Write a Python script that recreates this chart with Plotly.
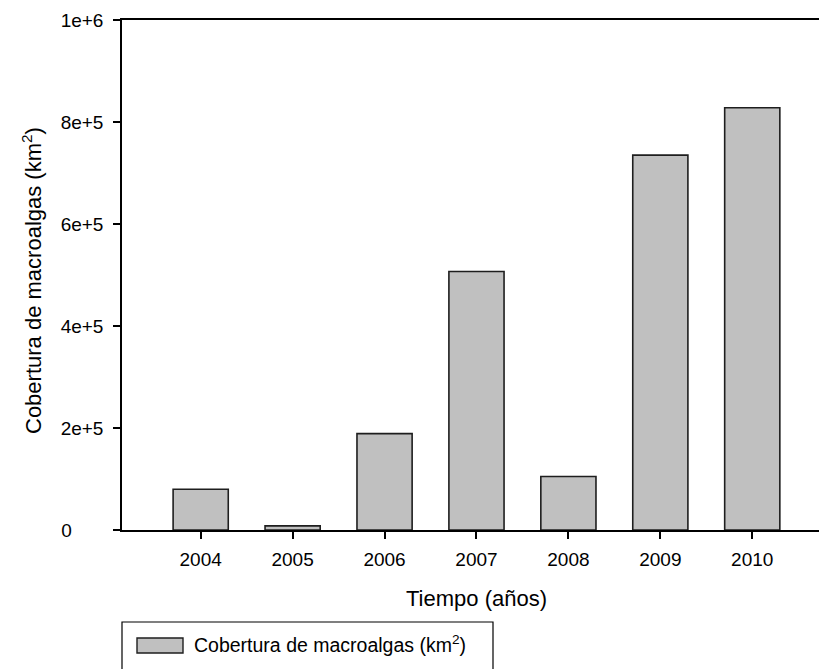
import plotly.graph_objects as go

# Macroalgae cover per year
years = ["2004", "2005", "2006", "2007", "2008", "2009", "2010"]
cover_km2 = [80000, 8000, 189000, 507000, 105000, 735000, 828000]

y_tick_vals = [0, 200000, 400000, 600000, 800000, 1000000]
y_tick_text = ["0", "2e+5", "4e+5", "6e+5", "8e+5", "1e+6"]

W, H = 819, 669
ML, MR, MT, MB = 122, 0, 20, 139
PW, PH = W - ML - MR, H - MT - MB
FONT = "Arial, Liberation Sans, sans-serif"


def px_x(px):
    return (px - ML) / PW


def px_y(py):
    return (H - MB - py) / PH


# left-align the y tick labels by padding the short one
pad = "\u00a0"
y_tick_text_padded = [t if len(t) > 1 else t + pad * 6 for t in y_tick_text]

fig = go.Figure()
fig.add_trace(go.Bar(
    x=years,
    y=cover_km2,
    width=0.6,
    marker=dict(color="#c0c0c0", line=dict(color="#1e1e1e", width=1.6)),
    showlegend=False,
    hoverinfo="x+y",
))

fig.update_layout(
    width=W,
    height=H,
    margin=dict(l=ML, r=MR, t=MT, b=MB, pad=0),
    paper_bgcolor="white",
    plot_bgcolor="white",
    font=dict(family=FONT, color="black", size=19),
    xaxis=dict(
        type="category",
        range=[-0.856, 6.726],
        showline=True,
        linecolor="black",
        linewidth=1.5,
        mirror=True,
        ticks="outside",
        ticklen=7,
        tickwidth=1.5,
        tickcolor="black",
        showgrid=False,
        zeroline=False,
        tickfont=dict(size=19),
        ticklabelstandoff=4,
    ),
    yaxis=dict(
        range=[0, 1000000],
        tickvals=y_tick_vals,
        ticktext=y_tick_text_padded,
        showline=True,
        linecolor="black",
        linewidth=1.5,
        ticks="outside",
        ticklen=7,
        tickwidth=1.5,
        tickcolor="black",
        showgrid=False,
        zeroline=False,
        tickfont=dict(size=19),
        ticklabelstandoff=6,
    ),
    shapes=[
        # legend frame
        dict(type="rect", xref="paper", yref="paper",
             x0=px_x(122), x1=px_x(493), y0=px_y(675), y1=px_y(622),
             line=dict(color="black", width=1.2), fillcolor="rgba(0,0,0,0)"),
        # legend swatch
        dict(type="rect", xref="paper", yref="paper",
             x0=px_x(137), x1=px_x(183), y0=px_y(653), y1=px_y(638),
             line=dict(color="#1e1e1e", width=1.4), fillcolor="#c0c0c0"),
    ],
    annotations=[
        dict(text="Tiempo (años)", xref="paper", yref="paper",
             x=px_x(477), y=px_y(598), xanchor="center", yanchor="middle",
             showarrow=False, font=dict(size=22)),
        dict(text="Cobertura de macroalgas (km<sup>2</sup>)", xref="paper", yref="paper",
             x=px_x(32), y=px_y(281), xanchor="center", yanchor="middle",
             textangle=-90, showarrow=False, font=dict(size=22)),
        dict(text="Cobertura de macroalgas (km<sup>2</sup>)", xref="paper", yref="paper",
             x=px_x(192), y=px_y(644), xanchor="left", yanchor="middle",
             showarrow=False, font=dict(size=19.5)),
    ],
)

fig.write_html("out.html")
